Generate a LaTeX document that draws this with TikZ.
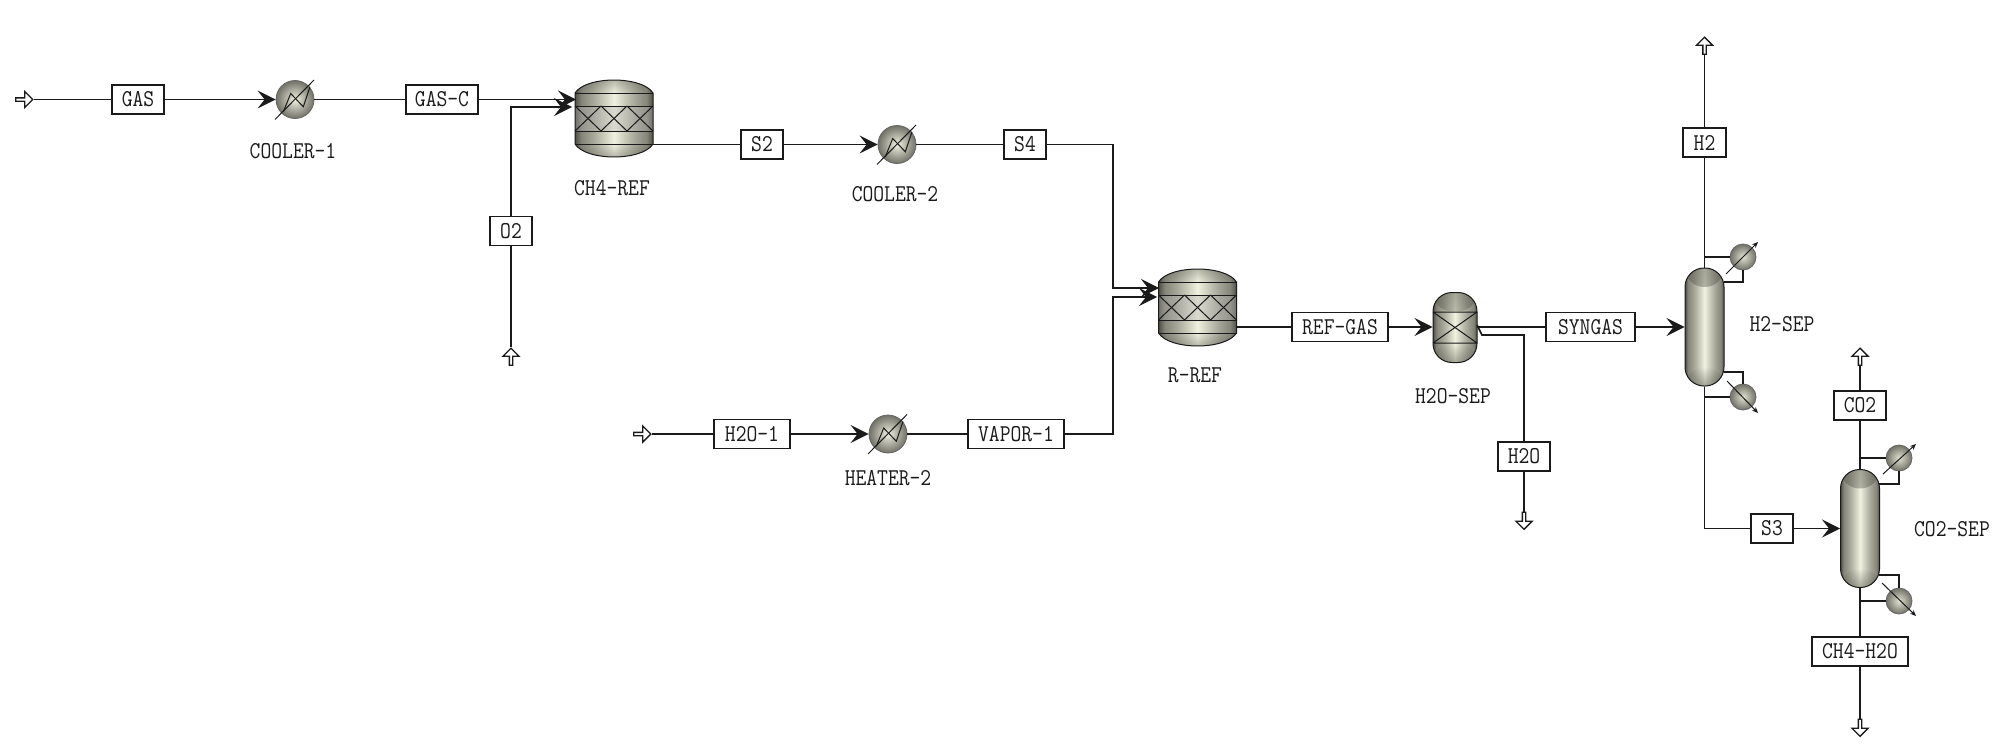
\documentclass[tikz,border=0pt]{standalone}
\usepackage{graphicx}
\usetikzlibrary{arrows.meta,shapes.arrows,shapes.geometric,fadings}
\definecolor{ink}{HTML}{1A1A1A}
\definecolor{mEdge}{HTML}{4E4E44}
\definecolor{mDark}{HTML}{85857A}
\definecolor{mMid}{HTML}{A3A396}
\definecolor{mLight}{HTML}{F1F1E0}
\pgfdeclarehorizontalshading{metal}{100bp}{
  color(0bp)=(mEdge);
  color(25bp)=(mEdge);
  color(29bp)=(mDark);
  color(36bp)=(mMid);
  color(50bp)=(mLight);
  color(64bp)=(mMid);
  color(71bp)=(mDark);
  color(75bp)=(mEdge);
  color(100bp)=(mEdge)}
\newcommand{\lbl}[1]{\scalebox{1}[1.15]{#1}}
\tikzset{
  conn/.style={draw=ink,line width=1.7pt},
  flow/.style={conn,-{Stealth[length=18pt,width=18pt,inset=7pt]}},
  thin line/.style={draw=ink,line width=1pt},
  tiny arrow/.style={thin line,-{Stealth[length=6pt,width=5pt]}},
  stream/.style={draw=ink,line width=1.5pt,fill=white,minimum height=29pt,inner sep=0pt,font=\fontsize{21}{21}\ttfamily,text=ink},
  tag/.style={inner sep=0pt,font=\fontsize{21}{21}\ttfamily,text=ink},
  port/.style={single arrow,draw=ink,line width=1.3pt,fill=white,inner sep=0pt,minimum height=17pt,minimum width=16pt,single arrow head extend=2.5pt,single arrow tip angle=90},
  exch/.style={circle,draw=black!60,line width=.8pt,inner color=mLight,outer color=mDark!85!black,inner sep=0pt,minimum size=38pt},
  ball/.style={circle,draw=black!60,line width=.8pt,inner color=mLight!80!mMid,outer color=mDark!85!black,inner sep=0pt,minimum size=26pt},
  capped/.style={draw=ink,line width=1pt,shading=metal,inner sep=0pt,rounded corners=#1,
    path picture={
      \fill[mEdge,opacity=.45,path fading=south] (path picture bounding box.north west) rectangle ([yshift=-#1] path picture bounding box.north east);
      \fill[mEdge,opacity=.45,path fading=north] (path picture bounding box.south west) rectangle ([yshift=#1] path picture bounding box.south east);
    }},
  tower/.style={capped=19pt,minimum width=39pt,minimum height=118pt},
}
\newcommand{\hxunit}[3]{%
  \node[exch] (#1) at (#2,#3) {};
  \begin{scope}[shift={(#2,#3)}]
    \draw[thin line] (-20,20) -- (19,-19.5);
    \draw[thin line] (-11.7,12.3) -- (-4.3,-6) -- (8.3,7.3) -- (15,-12.7);
  \end{scope}}
\newcommand{\reactorunit}[3]{%
  \begin{scope}[shift={(#2,#3)}]
    \path[shading=metal] (-39,13) .. controls (-28,-4.3) and (28,-4.3) .. (39,13) -- (39,64) .. controls (28,81.3) and (-28,81.3) .. (-39,64) -- cycle;
    \fill[mEdge,opacity=.45,path fading=south] (-39,13) .. controls (-28,-4.3) and (28,-4.3) .. (39,13) -- cycle;
    \fill[mEdge,opacity=.45,path fading=north] (39,64) .. controls (28,81.3) and (-28,81.3) .. (-39,64) -- cycle;
    \fill[black!30,opacity=.35] (-39,26) rectangle (39,51);
    \draw[draw=ink,line width=1pt] (-39,13) .. controls (-28,-4.3) and (28,-4.3) .. (39,13) -- (39,64) .. controls (28,81.3) and (-28,81.3) .. (-39,64) -- cycle;
    \foreach \yy in {13,26,51,64} \draw[thin line] (-39,\yy) -- (39,\yy);
    \draw[thin line] (-39,26) -- (-13,51) (-13,26) -- (13,51) (13,26) -- (-13,51) (13,26) -- (39,51) (-13,26) -- (-39,51) (39,26) -- (13,51);
    \node[inner sep=0pt,minimum width=78pt,minimum height=77pt] (#1) at (0,38.5) {};
  \end{scope}}
\begin{document}
\begin{tikzpicture}[x=1pt,y=-1pt]
\useasboundingbox[fill=white] (0,0) rectangle (2000,744);
% equipment
\hxunit{cooler1}{295}{99.5}
\hxunit{cooler2}{897}{144.5}
\hxunit{heater2}{888}{434}
\reactorunit{ch4ref}{614}{80}
\reactorunit{rref}{1197.5}{269}
\node[capped=19pt,minimum width=44pt,minimum height=70pt] (h2osep) at (1455,327.5) {};
\draw[thin line] (1433,312) -- (1477,312) (1433,343) -- (1477,343) (1433,312) -- (1477,343) (1433,343) -- (1477,312);
\node[tower] (h2sep) at (1704.5,327) {};
\node[tower] (co2sep) at (1860,528.5) {};
\node[ball] (cond1) at (1743,257) {};
\node[ball] (reb1) at (1743,397) {};
\node[ball] (cond2) at (1899,458) {};
\node[ball] (reb2) at (1899,601) {};
% stream boxes
\node[stream,minimum width=52pt] (gas) at (138,99.5) {\lbl{GAS}};
\node[stream,minimum width=72pt] (gasc) at (442,99.5) {\lbl{GAS-C}};
\node[stream,minimum width=42pt] (o2) at (511,231) {\lbl{O2}};
\node[stream,minimum width=42pt] (s2) at (762,144.5) {\lbl{S2}};
\node[stream,minimum width=42pt] (s4) at (1025,144.5) {\lbl{S4}};
\node[stream,minimum width=76pt] (h2o1) at (752,434) {\lbl{H2O-1}};
\node[stream,minimum width=96pt] (vapor) at (1016,434) {\lbl{VAPOR-1}};
\node[stream,minimum width=96pt] (refgas) at (1340,327) {\lbl{REF-GAS}};
\node[stream,minimum width=89pt] (syngas) at (1590.5,327) {\lbl{SYNGAS}};
\node[stream,minimum width=52pt] (h2o) at (1524,456.5) {\lbl{H2O}};
\node[stream,minimum width=43pt] (h2) at (1704.5,142.5) {\lbl{H2}};
\node[stream,minimum width=42pt] (s3) at (1772,528.5) {\lbl{S3}};
\node[stream,minimum width=52pt] (co2) at (1860,405.5) {\lbl{CO2}};
\node[stream,minimum width=96pt] (ch4h2o) at (1860,651.5) {\lbl{CH4-H2O}};
% ports
\node[port] (pgas) at (23.5,99.5) {};
\node[port,shape border rotate=90] (po2) at (511,357.5) {};
\node[port] (ph2o1) at (641.5,434) {};
\node[port,shape border rotate=90] (ph2) at (1704.5,46.5) {};
\node[port,shape border rotate=90] (pco2) at (1860,357.5) {};
\node[port,shape border rotate=270] (ph2o) at (1524,520) {};
\node[port,shape border rotate=270] (pch4) at (1860,727) {};
% labels
\node[tag] (lc1) at (293,151) {\lbl{COOLER-1}};
\node[tag] (lch4) at (612,188) {\lbl{CH4-REF}};
\node[tag] (lc2) at (895,194) {\lbl{COOLER-2}};
\node[tag] (lh2) at (888,478) {\lbl{HEATER-2}};
\node[tag] (lrr) at (1195,375) {\lbl{R-REF}};
\node[tag] (lhs) at (1453,396) {\lbl{H2O-SEP}};
\node[tag] (lh2s) at (1782,324) {\lbl{H2-SEP}};
\node[tag] (lco2s) at (1952,529) {\lbl{CO2-SEP}};
% connection points
\coordinate (ch4a) at (576,99.5);
\coordinate (ch4b) at (572,107);
\coordinate (ch4o) at (653,144.5);
\coordinate (rin1) at (1159,288);
\coordinate (rin2) at (1157,297);
\coordinate (rj1) at (1113,288);
\coordinate (rj2) at (1113,297);
\coordinate (sepo) at (1477,327);
\coordinate (sepw) at (1477,325);
\coordinate (sepk) at (1482,335);
\coordinate (c1r) at (1724,282);
\coordinate (r1r) at (1724,372);
\coordinate (c2r) at (1879,484);
\coordinate (r2r) at (1879,575);
% connectors
\draw[conn] (pgas.tip) -- (gas.west);
\draw[flow] (gas.east) -- (cooler1.west);
\draw[conn] (cooler1.east) -- (gasc.west);
\draw[flow] (gasc.east) -- (ch4a);
\draw[conn] (po2.tip) -- (o2.south);
\draw[flow] (o2.north) |- (ch4b);
\draw[conn] (ch4o) -- (s2.west);
\draw[flow] (s2.east) -- (cooler2.west);
\draw[conn] (cooler2.east) -- (s4.west);
\draw[flow] (s4.east) -| (rj1) -- (rin1);
\draw[conn] (ph2o1.tip) -- (h2o1.west);
\draw[flow] (h2o1.east) -- (heater2.west);
\draw[conn] (heater2.east) -- (vapor.west);
\draw[flow] (vapor.east) -| (rj2) -- (rin2);
\draw[conn] (rref.east |- refgas.west) -- (refgas.west);
\draw[flow] (refgas.east) -- (h2osep.west |- refgas.east);
\draw[conn] (sepo) -- (syngas.west);
\draw[conn] (sepw) -- (sepk) -| (h2o.north);
\draw[conn] (h2o.south) -- (ph2o.tail);
\draw[flow] (syngas.east) -- (h2sep.west |- syngas.east);
\draw[conn] (h2sep.north) -- (h2.south);
\draw[conn] (h2.north) -- (ph2.tail);
\draw[conn] (h2sep.south) |- (s3.west);
\draw[flow] (s3.east) -- (co2sep.west);
\draw[conn] (co2sep.north) -- (co2.south);
\draw[conn] (co2.north) -- (pco2.tail);
\draw[conn] (co2sep.south) -- (ch4h2o.north);
\draw[conn] (ch4h2o.south) -- (pch4.tail);
\draw[conn] (cond1.west) -- (cond1.west -| h2sep.north);
\draw[conn] (cond1.south) |- (c1r);
\draw[conn] (reb1.west) -- (reb1.west -| h2sep.south);
\draw[conn] (reb1.north) |- (r1r);
\draw[conn] (cond2.west) -- (cond2.west -| co2sep.north);
\draw[conn] (cond2.south) |- (c2r);
\draw[conn] (reb2.west) -- (reb2.west -| co2sep.south);
\draw[conn] (reb2.north) |- (r2r);
\draw[tiny arrow] ([shift={(-17,17)}]cond1.center) -- ([shift={(15,-15)}]cond1.center);
\draw[tiny arrow] ([shift={(-16,-16)}]reb1.center) -- ([shift={(15,16)}]reb1.center);
\draw[tiny arrow] ([shift={(-16,16)}]cond2.center) -- ([shift={(17,-14)}]cond2.center);
\draw[tiny arrow] ([shift={(-17,-18)}]reb2.center) -- ([shift={(17,15)}]reb2.center);
\end{tikzpicture}
\end{document}
